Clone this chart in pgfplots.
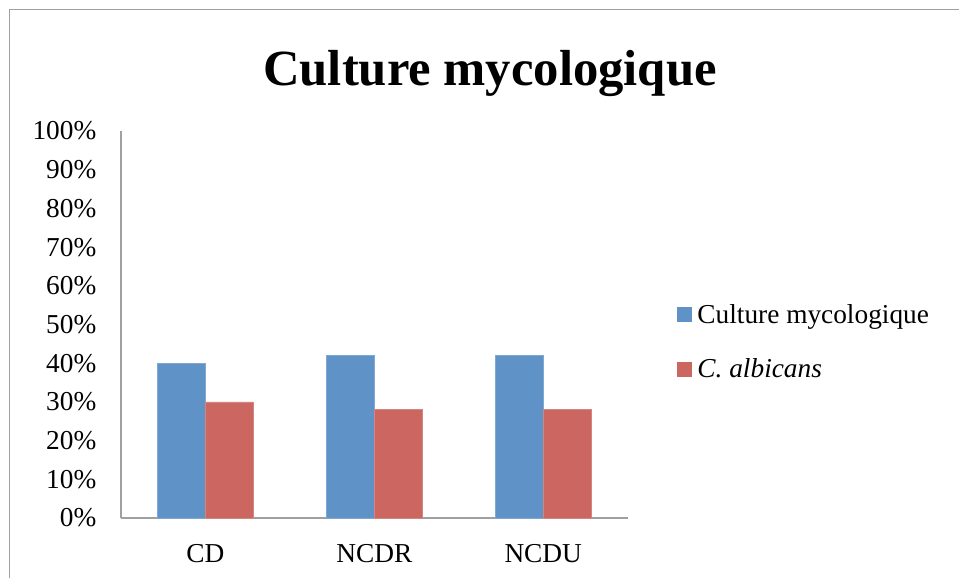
\documentclass[border=0pt]{standalone}
\usepackage{fontspec}
\setmainfont{Liberation Serif}
\usepackage{pgfplots}
\pgfplotsset{compat=1.18}
\definecolor{barblue}{RGB}{95,147,200}
\definecolor{barred}{RGB}{203,102,96}
\definecolor{axgray}{RGB}{160,160,160}
\begin{document}
\begin{tikzpicture}
\path[use as bounding box] (0,0) rectangle (719.25pt,433.5pt);
\draw[axgray, line width=1.4pt] (7.1pt,0) -- (7.1pt,426.4pt) -- (719.25pt,426.4pt);
\node[font=\fontsize{38}{44}\selectfont\bfseries] at (367.5pt,378pt) {Culture mycologique};
\begin{axis}[
  at={(90.75pt,45pt)}, anchor=south west,
  scale only axis, width=380pt, height=290.25pt,
  ybar=0pt, bar width=36pt,
  xmin=-0.5, xmax=2.5, ymin=0, ymax=100,
  xtick={0,1,2}, xticklabels={CD,NCDR,NCDU},
  ytick={0,10,...,100},
  yticklabels={0\%,10\%,20\%,30\%,40\%,50\%,60\%,70\%,80\%,90\%,100\%},
  major tick length=0pt,
  axis x line*=bottom, axis y line*=left,
  axis line style={axgray, line width=1.1pt, -},
  tick label style={font=\fontsize{20.5}{24}\selectfont},
  xticklabel style={yshift=-16pt},
  yticklabel style={xshift=-15pt},
  legend style={at={(1.097,0.455)}, anchor=west, draw=none, fill=none,
    font=\fontsize{20.5}{24}\selectfont, row sep=21pt, inner sep=0pt,
    nodes={inner sep=2pt}},
  legend cell align=left,
  legend image code/.code={\fill[#1,draw=none] (0pt,-5.6pt) rectangle (11.25pt,5.6pt);},
]
\addplot[fill=barblue, draw=barblue!80!white] coordinates {(0,40) (1,42) (2,42)};
\addplot[fill=barred, draw=barred!80!white] coordinates {(0,30) (1,28) (2,28)};
\legend{\hspace{2pt}Culture mycologique, \hspace{2pt}\textit{C. albicans}}
\end{axis}
\end{tikzpicture}
\end{document}
